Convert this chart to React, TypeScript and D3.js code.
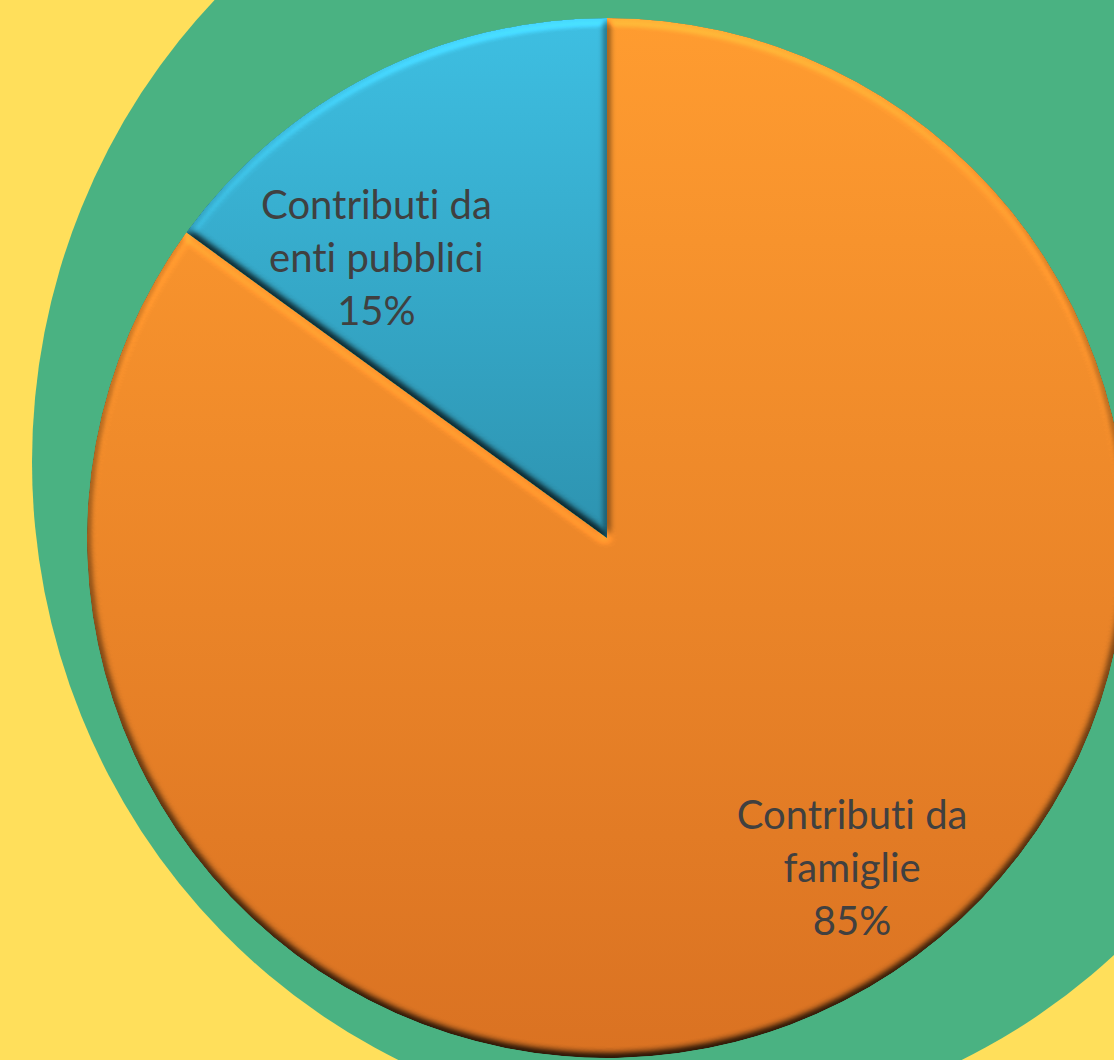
import React, { useEffect } from "react";
import * as d3 from "d3";

// ---- data ----
const categories = ["Contributi da famiglie", "Contributi da enti pubblici"];
const labelLines = [
  ["Contributi da", "famiglie"],
  ["Contributi da", "enti pubblici"],
];
const values = [85, 15];
const sliceTopColors = ["#FF9C30", "#3EBFE2"];
const sliceBottomColors = ["#DA7222", "#2D93B0"];

const W = 1114;
const H = 1060;

export default function App() {
  useEffect(() => {
    document.body.style.margin = "0";
  }, []);

  const cx = 607;
  const cy = 538;
  const r = 520;

  const pie = d3.pie<number>().sort(null).value((d) => d);
  const arcs = pie(values);
  const arc = d3.arc<d3.PieArcDatum<number>>().innerRadius(0).outerRadius(r);
  const total = d3.sum(values);
  const pct = d3.format(".0%");

  // label placement (polar, relative to pie centre)
  const labelPolar = [
    { angle: 143.6, radius: 413 },
    { angle: 320.3, radius: 361 },
  ];
  const fontSize = 40;
  const lineH = 53;
  const elev = 58;
  const k1 = 1 / Math.sin((elev * Math.PI) / 180);

  return (
    <svg
      width={W}
      height={H}
      style={{ position: "absolute", left: 0, top: 0, display: "block" }}
    >
      <defs>
        {arcs.map((a, i) => (
          <linearGradient key={i} id={`grad${i}`} x1="0" y1="0" x2="0" y2="1">
            <stop offset="0" stopColor={sliceTopColors[i]} />
            <stop offset="1" stopColor={sliceBottomColors[i]} />
          </linearGradient>
        ))}
        <filter
          id="bevel"
          x="-5%"
          y="-5%"
          width="110%"
          height="110%"
          colorInterpolationFilters="sRGB"
        >
          <feGaussianBlur in="SourceAlpha" stdDeviation="4.5" result="blur" />
          <feDiffuseLighting
            in="blur"
            surfaceScale="6"
            diffuseConstant="1"
            lightingColor="#ffffff"
            result="light"
          >
            <feDistantLight azimuth="270" elevation={elev} />
          </feDiffuseLighting>
          <feComposite
            in="SourceGraphic"
            in2="light"
            operator="arithmetic"
            k1={k1}
            k2="0"
            k3="0"
            k4="0"
            result="lit"
          />
          <feComposite in="lit" in2="SourceAlpha" operator="in" />
        </filter>
      </defs>
      <rect x={0} y={0} width={W} height={H} fill="#FFDF5B" />
      <ellipse cx={680} cy={462} rx={648} ry={664} fill="#4AB282" />
      <g transform={`translate(${cx},${cy})`}>
        {arcs.map((a, i) => (
          <path
            key={categories[i]}
            d={arc(a) as string}
            fill={`url(#grad${i})`}
            filter="url(#bevel)"
          />
        ))}
        {arcs.map((a, i) => {
          const ang = (labelPolar[i].angle * Math.PI) / 180;
          const x = Math.sin(ang) * labelPolar[i].radius;
          const y = -Math.cos(ang) * labelPolar[i].radius;
          const lines = [...labelLines[i], pct(values[i] / total)];
          return (
            <text
              key={`t${i}`}
              x={x}
              y={y}
              textAnchor="middle"
              fontFamily="Lato, 'Noto Sans', sans-serif"
              fontSize={fontSize}
              fill="#404040"
              style={{ fontVariantLigatures: "none", fontFeatureSettings: "'liga' 0" }}
            >
              {lines.map((l, j) => (
                <tspan key={j} x={x} y={y + (j - 1) * lineH + fontSize * 0.3}>
                  {l}
                </tspan>
              ))}
            </text>
          );
        })}
      </g>
    </svg>
  );
}
